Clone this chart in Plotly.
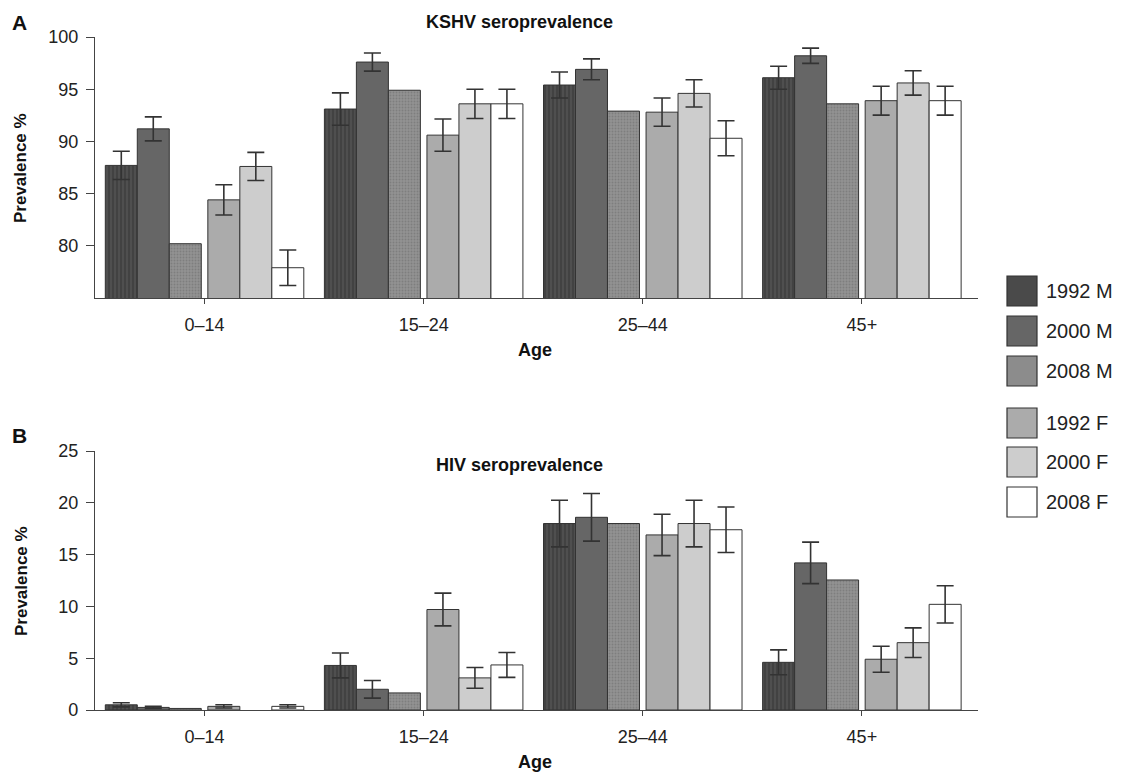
import plotly.graph_objects as go

# ---------------- data ----------------
ages = ["0–14", "15–24", "25–44", "45+"]
series = ["1992 M", "2000 M", "2008 M", "1992 F", "2000 F", "2008 F"]

kshv_1992M = [87.7, 93.1, 95.4, 96.1]
kshv_1992M_err = [1.35, 1.55, 1.25, 1.1]
kshv_2000M = [91.2, 97.6, 96.9, 98.2]
kshv_2000M_err = [1.15, 0.87, 1.0, 0.73]
kshv_2008M = [80.2, 94.9, 92.9, 93.6]
kshv_1992F = [84.4, 90.6, 92.8, 93.9]
kshv_1992F_err = [1.45, 1.55, 1.35, 1.38]
kshv_2000F = [87.6, 93.6, 94.6, 95.6]
kshv_2000F_err = [1.35, 1.4, 1.3, 1.17]
kshv_2008F = [77.9, 93.6, 90.3, 93.9]
kshv_2008F_err = [1.7, 1.4, 1.68, 1.38]

hiv_1992M = [0.5, 4.3, 18.0, 4.6]
hiv_1992M_err = [0.2, 1.2, 2.25, 1.2]
hiv_2000M = [0.25, 2.0, 18.6, 14.2]
hiv_2000M_err = [0.1, 0.85, 2.3, 2.0]
hiv_2008M = [0.15, 1.65, 18.0, 12.55]
hiv_1992F = [0.35, 9.7, 16.9, 4.9]
hiv_1992F_err = [0.15, 1.58, 2.0, 1.25]
hiv_2000F = [None, 3.1, 18.0, 6.5]
hiv_2000F_err = [None, 1.0, 2.25, 1.43]
hiv_2008F = [0.35, 4.35, 17.4, 10.2]
hiv_2008F_err = [0.15, 1.2, 2.2, 1.8]

kshv_vals = [kshv_1992M, kshv_2000M, kshv_2008M, kshv_1992F, kshv_2000F, kshv_2008F]
kshv_errs = [kshv_1992M_err, kshv_2000M_err, None, kshv_1992F_err, kshv_2000F_err, kshv_2008F_err]
hiv_vals = [hiv_1992M, hiv_2000M, hiv_2008M, hiv_1992F, hiv_2000F, hiv_2008F]
hiv_errs = [hiv_1992M_err, hiv_2000M_err, None, hiv_1992F_err, hiv_2000F_err, hiv_2008F_err]

kshv_ticks = [80, 85, 90, 95, 100]
hiv_ticks = [0, 5, 10, 15, 20, 25]

# ---------------- styles ----------------
fills = ["#4a4a4a", "#666666", "#8c8c8c", "#ababab", "#cdcdcd", "#ffffff"]
patterns = [
    dict(shape="|", fgcolor="#3e3e3e", bgcolor="#4f4f4f", size=4, solidity=0.4),
    None,
    dict(shape=".", fgcolor="#7e7e7e", bgcolor="#929292", size=3, solidity=0.3),
    None, None, None,
]
BW = 0.146
offsets = [-0.453, -0.307, -0.161, 0.015, 0.161, 0.307]
EDGE = "#333333"
FONT = "Liberation Sans, Arial, Helvetica, sans-serif"

W, H = 1123, 776
ML, MR, MT, MB = 95, 145, 37, 66
PW = W - ML - MR
PH = H - MT - MB


def px2x(px):
    return (px - ML) / PW


def py2y(py):
    return (H - MB - py) / PH


fig = go.Figure()

for vals_list, errs_list, xa, ya in [(kshv_vals, kshv_errs, "x", "y"),
                                     (hiv_vals, hiv_errs, "x2", "y2")]:
    for j, name in enumerate(series):
        marker = dict(color=fills[j], line=dict(color=EDGE, width=1))
        if patterns[j] is not None:
            marker["pattern"] = dict(fillmode="replace", **patterns[j])
        err = errs_list[j]
        ey = (dict(type="data", array=err, visible=True, color=EDGE, thickness=1.6, width=8.5)
              if err is not None else dict(visible=False))
        fig.add_trace(go.Bar(
            x=ages, y=vals_list[j], name=name, offset=offsets[j], width=BW,
            marker=marker, error_y=ey, showlegend=False, xaxis=xa, yaxis=ya,
        ))

top_dom = [py2y(298), 1.0]
bot_dom = [0.0, py2y(451)]

axis_common = dict(
    showline=True, linecolor="#444444", linewidth=1.2, ticks="outside",
    tickcolor="#444444", showgrid=False, zeroline=False,
    tickfont=dict(family=FONT, size=18, color="#222222"),
)
xax = dict(domain=[0, 1], range=[-0.5, 3.53], type="category", ticklen=5,
           ticklabelstandoff=5, **axis_common)
yax = dict(ticklen=8, ticklabelstandoff=4, **axis_common)

fig.update_layout(
    width=W, height=H,
    margin=dict(l=ML, r=MR, t=MT, b=MB),
    paper_bgcolor="white", plot_bgcolor="white",
    barmode="overlay",
    font=dict(family=FONT, color="#222222"),
    xaxis=dict(anchor="y", **xax),
    yaxis=dict(domain=top_dom, anchor="x", range=[75, 100], tickvals=kshv_ticks, **yax),
    xaxis2=dict(anchor="y2", **xax),
    yaxis2=dict(domain=bot_dom, anchor="x2", range=[0, 25], tickvals=hiv_ticks, **yax),
)


def bold(size):
    return dict(family=FONT, size=size, color="#111111")


ann = [
    dict(text="<b>A</b>", x=px2x(10), y=py2y(22), xanchor="left", yanchor="middle", font=bold(21)),
    dict(text="<b>B</b>", x=px2x(10), y=py2y(435), xanchor="left", yanchor="middle", font=bold(21)),
    dict(text="<b>KSHV seroprevalence</b>", x=px2x(519), y=py2y(22), xanchor="center",
         yanchor="middle", font=bold(18)),
    dict(text="<b>HIV seroprevalence</b>", x=px2x(519), y=py2y(465), xanchor="center",
         yanchor="middle", font=bold(18)),
    dict(text="<b>Age</b>", x=px2x(535), y=py2y(350), xanchor="center",
         yanchor="middle", font=bold(18)),
    dict(text="<b>Age</b>", x=px2x(535), y=py2y(762), xanchor="center",
         yanchor="middle", font=bold(18)),
    dict(text="<b>Prevalence %</b>", x=px2x(21), y=py2y(168), xanchor="center",
         yanchor="middle", textangle=-90, font=bold(17)),
    dict(text="<b>Prevalence %</b>", x=px2x(21), y=py2y(581), xanchor="center",
         yanchor="middle", textangle=-90, font=bold(17)),
]

# custom legend (large swatches, gap between M and F groups)
legend_centers = [291, 331, 371, 423, 462, 502]
shapes = []
for j, name in enumerate(series):
    cy = legend_centers[j]
    shapes.append(dict(type="rect", xref="paper", yref="paper",
                       x0=px2x(1007), x1=px2x(1037), y0=py2y(cy + 15), y1=py2y(cy - 15),
                       fillcolor=fills[j], line=dict(color=EDGE, width=1.2)))
    ann.append(dict(text=name, x=px2x(1044), y=py2y(cy), xanchor="left", yanchor="middle",
                    font=dict(family=FONT, size=20, color="#222222")))

for a in ann:
    a.update(xref="paper", yref="paper", showarrow=False)
fig.update_layout(annotations=ann, shapes=shapes)

fig.write_html("out.html", config={"displayModeBar": False},
               post_script="document.body.style.margin='0px';")
